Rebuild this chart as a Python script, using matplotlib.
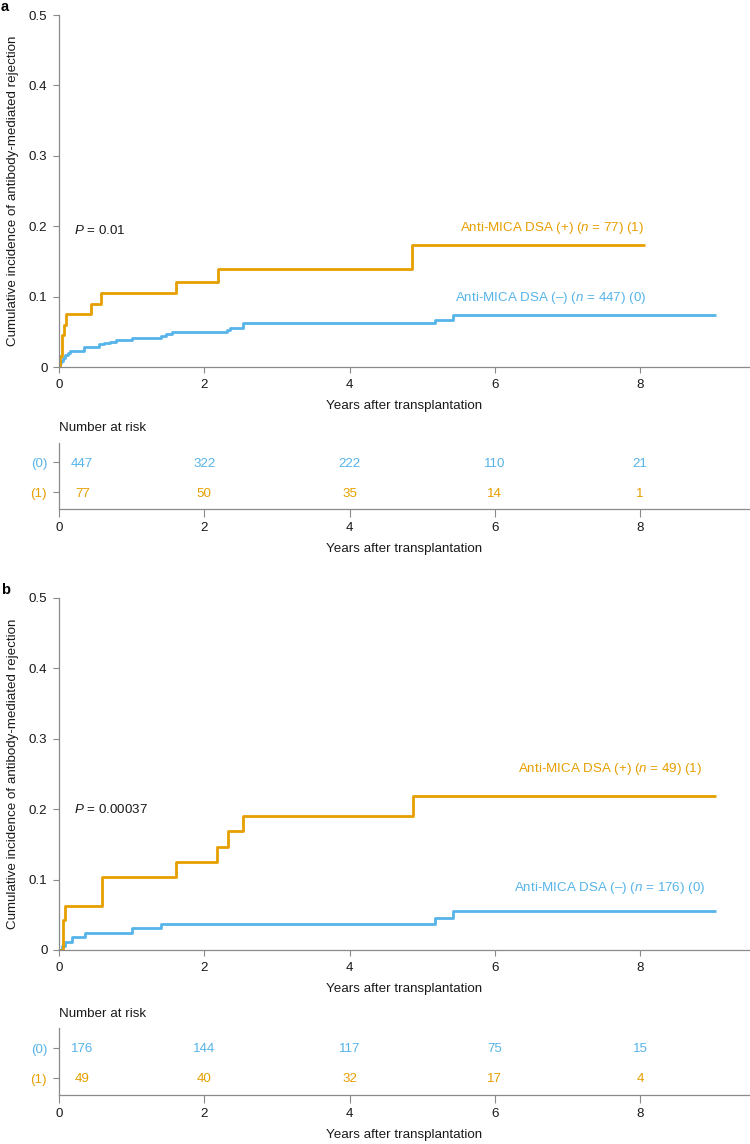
import matplotlib
matplotlib.use('Agg')
import matplotlib.pyplot as plt

plt.rcParams['font.family'] = ['Liberation Sans', 'DejaVu Sans']
plt.rcParams['mathtext.fontset'] = 'custom'
plt.rcParams['mathtext.rm'] = 'Liberation Sans'
plt.rcParams['mathtext.it'] = 'Liberation Sans:italic'

##### DATA #####
# panel a: step curves (time in years, cumulative incidence)
A_POS_T = [0, 0.014, 0.046, 0.07, 0.096, 0.44, 0.58, 1.61, 2.19, 4.86, 8.07]
A_POS_Y = [0, 0.015, 0.045, 0.06, 0.075, 0.090, 0.105, 0.121, 0.139, 0.173, 0.173]
A_NEG_T = [0, 0.01, 0.03, 0.05, 0.08, 0.12, 0.15, 0.35, 0.55, 0.62, 0.70, 0.78,
           1.00, 1.40, 1.47, 1.55, 2.31, 2.36, 2.54, 5.17, 5.43, 9.04]
A_NEG_Y = [0, 0.005, 0.009, 0.013, 0.017, 0.020, 0.023, 0.028, 0.032, 0.034, 0.036, 0.038,
           0.041, 0.044, 0.047, 0.050, 0.053, 0.056, 0.062, 0.067, 0.074, 0.074]
# panel b
B_POS_T = [0, 0.05, 0.083, 0.59, 1.61, 2.18, 2.32, 2.54, 4.87, 9.04]
B_POS_Y = [0, 0.042, 0.062, 0.104, 0.125, 0.147, 0.169, 0.191, 0.219, 0.219]
B_NEG_T = [0, 0.036, 0.083, 0.175, 0.36, 1.01, 1.40, 5.17, 5.43, 9.05]
B_NEG_Y = [0, 0.006, 0.011, 0.018, 0.024, 0.031, 0.037, 0.046, 0.056, 0.056]

# number at risk
RISK_T = [0, 2, 4, 6, 8]
A_RISK_NEG = [447, 322, 222, 110, 21]
A_RISK_POS = [77, 50, 35, 14, 1]
B_RISK_NEG = [176, 144, 117, 75, 15]
B_RISK_POS = [49, 40, 32, 17, 4]

A_LABEL_POS = r"Anti-MICA DSA (+) ($n$ = 77) (1)"
A_LABEL_NEG = r"Anti-MICA DSA (–) ($n$ = 447) (0)"
B_LABEL_POS = r"Anti-MICA DSA (+) ($n$ = 49) (1)"
B_LABEL_NEG = r"Anti-MICA DSA (–) ($n$ = 176) (0)"

##### STYLE #####
ORANGE = '#E69F00'
BLUE = '#56B4E9'
GREY = '#8a8a8a'
TXT = '#1a1a1a'
FS = 9.6

W, H = 750, 1144
fig = plt.figure(figsize=(W / 100, H / 100), dpi=100)


def px_axes(left, top, right, bottom):
    return fig.add_axes([left / W, 1 - bottom / H, (right - left) / W, (bottom - top) / H])


def style_axes(ax):
    for s in ['top', 'right']:
        ax.spines[s].set_visible(False)
    for s in ['left', 'bottom']:
        ax.spines[s].set_color(GREY)
        ax.spines[s].set_linewidth(0.9)
    ax.tick_params(colors=GREY, labelcolor=TXT, labelsize=FS, width=0.8)
    ax.set_xlim(0, 9.5)
    ax.set_xticks([0, 2, 4, 6, 8])


def draw_panel(top, letter, pos_t, pos_y, neg_t, neg_y, lab_pos, lab_neg,
               pos_lab_xy, neg_lab_xy, p_text, p_y, risk_neg, risk_pos, tab_top, tab_bot):
    ax = px_axes(59, top, 749, top + 352)
    style_axes(ax)
    ax.set_ylim(0, 0.5)
    ax.set_yticks([0, 0.1, 0.2, 0.3, 0.4, 0.5])
    ax.set_yticklabels(['0', '0.1', '0.2', '0.3', '0.4', '0.5'])
    ax.tick_params(axis='y', length=4.3, pad=4)
    ax.tick_params(axis='x', length=4.3, pad=4.3)

    ax.step(neg_t, neg_y, where='post', color=BLUE, lw=2.0, solid_capstyle='butt')
    ax.step(pos_t, pos_y, where='post', color=ORANGE, lw=2.0, solid_capstyle='butt')

    ax.text(pos_lab_xy[0], pos_lab_xy[1], lab_pos, color=ORANGE, fontsize=FS,
            ha='right', va='center')
    ax.text(neg_lab_xy[0], neg_lab_xy[1], lab_neg, color=BLUE, fontsize=FS,
            ha='right', va='center')
    ax.text(0.2, p_y, p_text, color=TXT, fontsize=FS, ha='left', va='center')

    ax.set_xlabel('Years after transplantation', fontsize=FS, color=TXT, labelpad=6.5)
    ax.set_ylabel('Cumulative incidence of antibody-mediated rejection', fontsize=FS,
                  color=TXT, labelpad=7)
    fig.text(1 / W, 1 - (top - 4) / H, letter, fontsize=10.5, fontweight='bold',
             ha='left', va='baseline', color='black')

    # number at risk table
    tb = px_axes(59, tab_top, 749, tab_bot)
    style_axes(tb)
    h = tab_bot - tab_top
    # rows at 1 (group 0) and 0 (group 1), 30 px apart
    tb.set_ylim(-(17 / 30), (h - 17) / 30)
    tb.set_yticks([1, 0])
    tb.set_yticklabels(['(0)', '(1)'])
    for lbl, c in zip(tb.get_yticklabels(), [BLUE, ORANGE]):
        lbl.set_color(c)
    tb.tick_params(axis='y', length=4.5, pad=4)
    tb.tick_params(axis='x', length=5.5, pad=4)
    for t, nn, npos in zip(RISK_T, risk_neg, risk_pos):
        x = max(t, 0.32)
        tb.text(x, 1, str(nn), color=BLUE, fontsize=FS, ha='center', va='center_baseline')
        tb.text(x, 0, str(npos), color=ORANGE, fontsize=FS, ha='center', va='center_baseline')
    tb.text(0, 1 + (19 + 15) / 30, 'Number at risk', color=TXT, fontsize=FS,
            ha='left', va='center')
    tb.set_xlabel('Years after transplantation', fontsize=FS, color=TXT, labelpad=6)


draw_panel(15, 'a', A_POS_T, A_POS_Y, A_NEG_T, A_NEG_Y, A_LABEL_POS, A_LABEL_NEG,
           (8.06, 0.197), (8.09, 0.098), r"$P$ = 0.01", 0.194,
           A_RISK_NEG, A_RISK_POS, 443, 509)
draw_panel(598, 'b', B_POS_T, B_POS_Y, B_NEG_T, B_NEG_Y, B_LABEL_POS, B_LABEL_NEG,
           (8.86, 0.257), (8.90, 0.088), r"$P$ = 0.00037", 0.199,
           B_RISK_NEG, B_RISK_POS, 1028, 1095)

fig.savefig('out.png', dpi=100)
